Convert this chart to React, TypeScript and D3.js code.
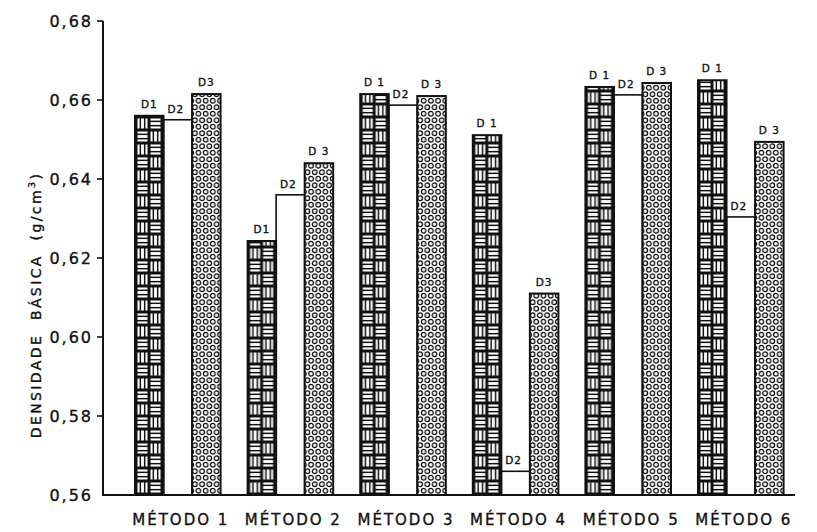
import React from "react";
import * as d3 from "d3";

const methods = ["MÉTODO 1", "MÉTODO 2", "MÉTODO 3", "MÉTODO 4", "MÉTODO 5", "MÉTODO 6"];
const d1Values = [0.656, 0.6243, 0.6615, 0.6511, 0.6633, 0.665];
const d2Values = [0.655, 0.636, 0.6587, 0.566, 0.6613, 0.6304];
const d3Values = [0.6615, 0.644, 0.661, 0.611, 0.6643, 0.6494];
const d1Labels = ["D1", "D1", "D 1", "D 1", "D 1", "D 1"];
const d2Labels = ["D2", "D2", "D2", "D2", "D2", "D2"];
const d3Labels = ["D3", "D 3", "D 3", "D3", "D 3", "D 3"];
const yTicks = [0.56, 0.58, 0.6, 0.62, 0.64, 0.66, 0.68];
const yTitle = "DENSIDADE  BÁSICA  (g/cm";
const yTitleSup = "3";
const yTitleEnd = ")";

const W = 817;
const H = 532;
const FONT = "'DejaVu Sans', sans-serif";
const INK = "#111";

export default function App() {
  const y = d3.scaleLinear().domain([0.56, 0.68]).range([495, 21]);
  const x = d3
    .scaleBand<string>()
    .domain(methods)
    .range([121.5, 797.1])
    .paddingInner(0.24)
    .paddingOuter(0.12);
  const sub = d3
    .scaleBand<string>()
    .domain(["D1", "D2", "D3"])
    .range([0, x.bandwidth()]);
  const bw = sub.bandwidth();
  const axisX = 103;
  const base = y(0.56);
  const fmt = (v: number) => d3.format(".2f")(v).replace(".", ",");

  const cell = 13;
  const weave = (id: string, ox: number) => (
    <pattern key={id} id={id} patternUnits="userSpaceOnUse" x={ox} y={0} width={cell * 2} height={cell * 2}>
      <rect width={cell * 2} height={cell * 2} fill="#fff" />
      {[
        [0, 0, "h"],
        [cell, 0, "v"],
        [0, cell, "v"],
        [cell, cell, "h"],
      ].map(([cx, cy, dir], i) => (
        <g key={i} stroke={INK} strokeWidth={1.5} fill="none">
          <rect x={(cx as number) + 0.75} y={(cy as number) + 0.75} width={cell - 1.5} height={cell - 1.5} />
          {dir === "h"
            ? [1, 2].map((k) => (
                <line key={k} x1={cx as number} x2={(cx as number) + cell} y1={(cy as number) + (k * cell) / 3} y2={(cy as number) + (k * cell) / 3} />
              ))
            : [1, 2].map((k) => (
                <line key={k} y1={cy as number} y2={(cy as number) + cell} x1={(cx as number) + (k * cell) / 3} x2={(cx as number) + (k * cell) / 3} />
              ))}
        </g>
      ))}
    </pattern>
  );
  const dots = (id: string, ox: number) => (
    <pattern key={id} id={id} patternUnits="userSpaceOnUse" x={ox} y={0} width={7.2} height={13}>
      <rect width={7.2} height={13} fill="#fff" />
      <g stroke={INK} strokeWidth={1.3} fill="none">
        <circle cx={1.8} cy={3.25} r={2.3} />
        <circle cx={5.4} cy={9.75} r={2.3} />
        <circle cx={9.0} cy={3.25} r={2.3} />
        <circle cx={-1.8} cy={9.75} r={2.3} />
      </g>
    </pattern>
  );

  const textProps = { fill: INK, stroke: INK, strokeWidth: 0.35 };

  return (
    <svg width={W} height={H} style={{ position: "absolute", left: 0, top: 0, background: "#fff" }} fontFamily={FONT}>
      <defs>
        {methods.map((m, i) => weave(`w${i}`, (x(m) as number) + (sub("D1") as number) + 1))}
        {methods.map((m, i) => dots(`c${i}`, (x(m) as number) + (sub("D3") as number) + 1))}
      </defs>

      {methods.map((m, i) => {
        const gx = x(m) as number;
        const x1 = gx + (sub("D1") as number);
        const x2 = gx + (sub("D2") as number);
        const x3 = gx + (sub("D3") as number);
        return (
          <g key={m}>
            <rect x={x2} y={y(d2Values[i])} width={bw} height={base - y(d2Values[i])} fill="#fff" stroke={INK} strokeWidth={1.6} />
            <rect x={x1} y={y(d1Values[i])} width={bw} height={base - y(d1Values[i])} fill={`url(#w${i})`} stroke={INK} strokeWidth={2} />
            <rect x={x3} y={y(d3Values[i])} width={bw} height={base - y(d3Values[i])} fill={`url(#c${i})`} stroke={INK} strokeWidth={2} />
            <text x={x1 + bw / 2} y={y(d1Values[i]) - 8} textAnchor="middle" fontSize={10.5} letterSpacing={1} {...textProps}>
              {d1Labels[i]}
            </text>
            <text x={x2 + bw / 2 - 2} y={y(d2Values[i]) - 7} textAnchor="middle" fontSize={10.5} letterSpacing={1} {...textProps}>
              {d2Labels[i]}
            </text>
            <text x={x3 + bw / 2} y={y(d3Values[i]) - 8} textAnchor="middle" fontSize={10.5} letterSpacing={1} {...textProps}>
              {d3Labels[i]}
            </text>
            <text x={gx + x.bandwidth() / 2 + 3} y={525} textAnchor="middle" fontSize={15} letterSpacing={2} {...textProps}>
              {m}
            </text>
          </g>
        );
      })}

      {/* axes */}
      <line x1={axisX} x2={axisX} y1={y(0.68)} y2={base} stroke={INK} strokeWidth={2} />
      <line x1={axisX - 1} x2={795} y1={base} y2={base} stroke={INK} strokeWidth={2} />
      {yTicks.map((t) => (
        <g key={t}>
          {t > 0.56 && <line x1={axisX - 6} x2={axisX} y1={y(t)} y2={y(t)} stroke={INK} strokeWidth={1.6} />}
          <text x={93} y={y(t) + 6} textAnchor="end" fontSize={16} letterSpacing={2} {...textProps}>
            {fmt(t)}
          </text>
        </g>
      ))}
      <text transform={`translate(41,${305}) rotate(-90)`} textAnchor="middle" fontSize={14} letterSpacing={2.4} xmlSpace="preserve" style={{ whiteSpace: "pre" }} {...textProps}>
        {yTitle}
        <tspan fontSize={9.5} dy={-6}>{yTitleSup}</tspan>
        <tspan dy={6}>{yTitleEnd}</tspan>
      </text>
    </svg>
  );
}
